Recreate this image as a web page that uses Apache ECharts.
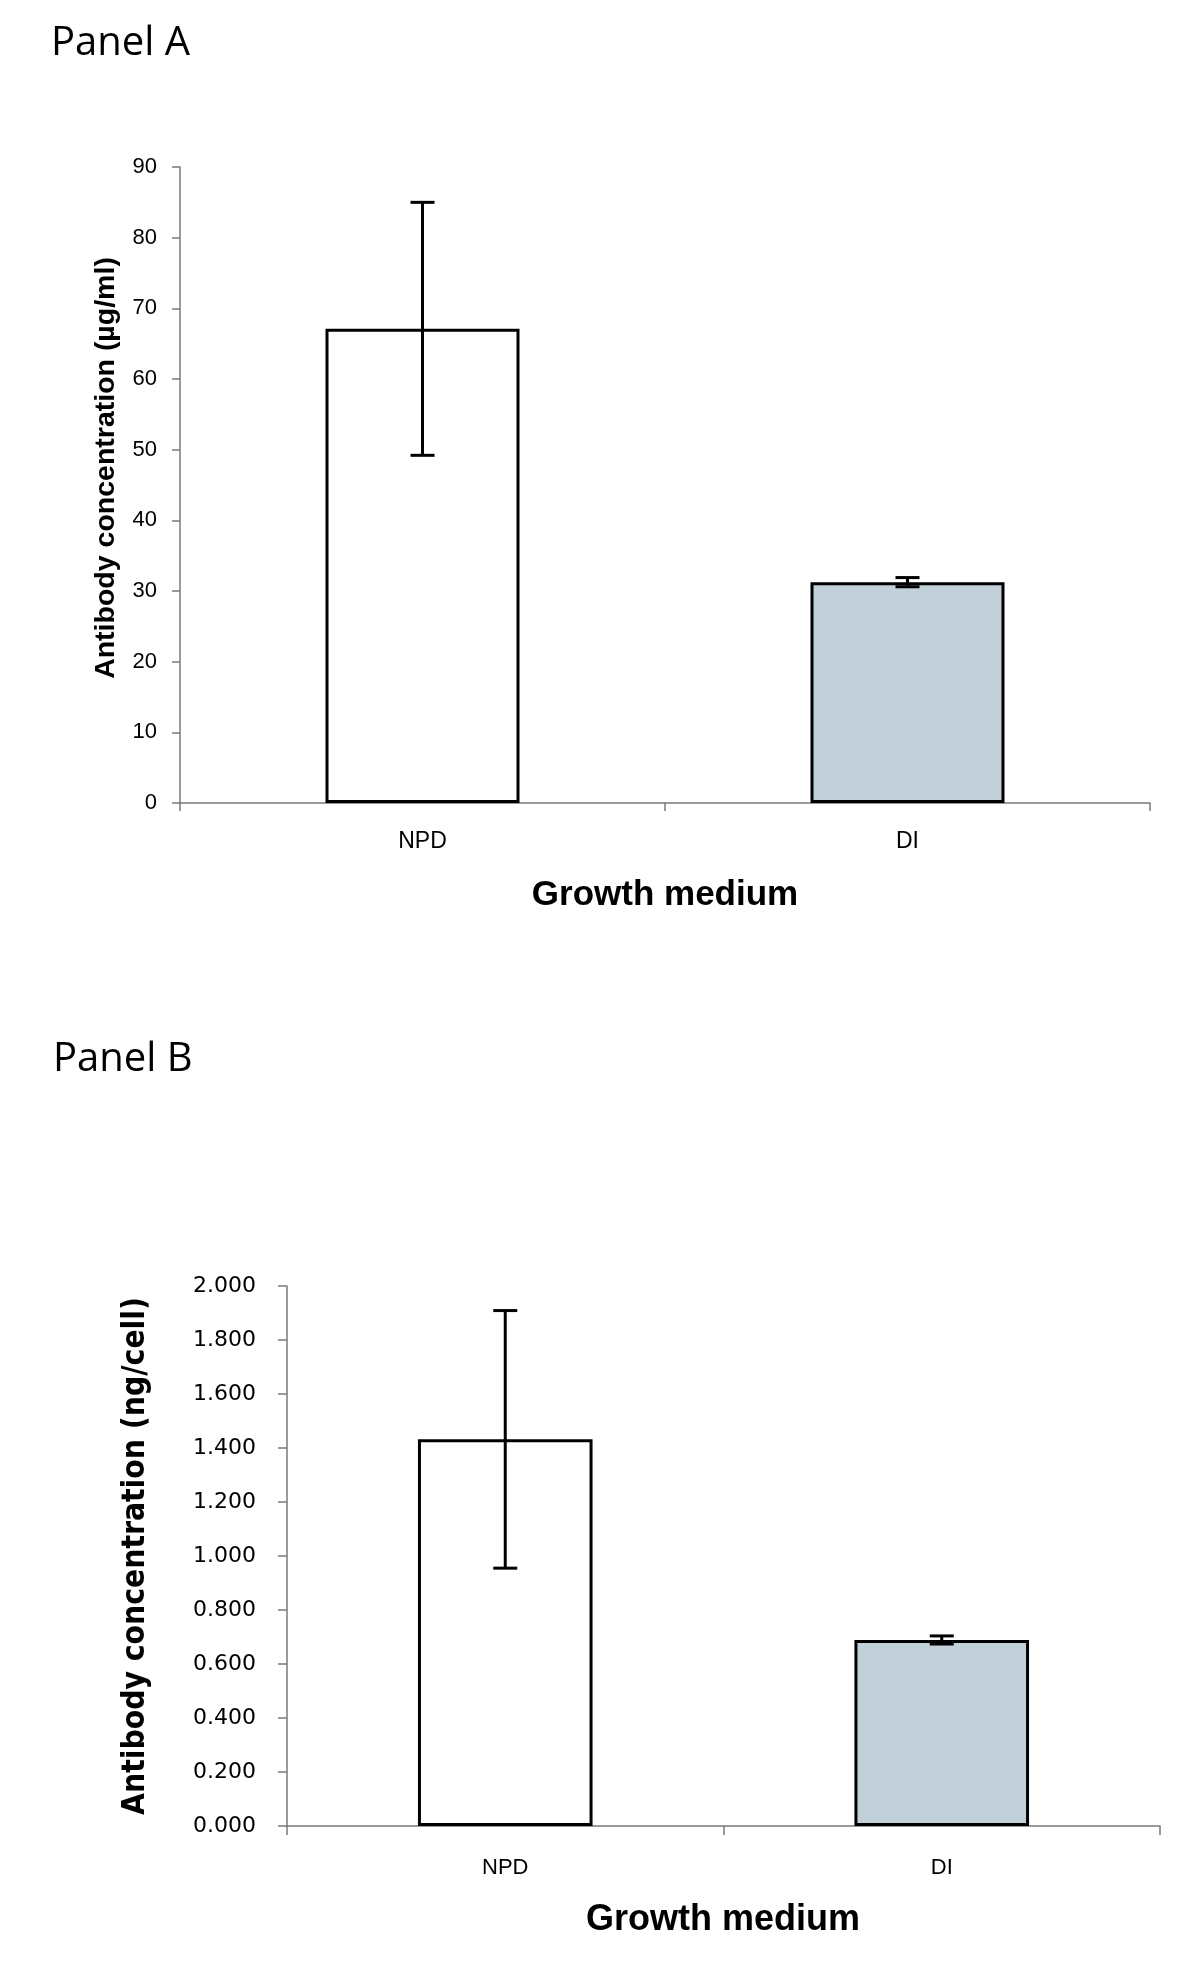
<!DOCTYPE html>
<html>
<head>
<meta charset="utf-8">
<script src="https://cdn.jsdelivr.net/npm/echarts@6/dist/echarts.min.js"></script>
<style>
html,body{margin:0;padding:0;background:#fff;}
#c{width:1200px;height:1977px;}
</style>
</head>
<body>
<div id="c"></div>
<script>
// ---- data ----
const categories = ['NPD', 'DI'];
const panelAMeans = [67.1, 31.25];
const panelAErrors = [17.9, 0.65];
const panelBMeans = [1.432, 0.689];
const panelBErrors = [0.477, 0.015];
const barColors = ['#ffffff', '#c1d0d9'];
const panelATitle = 'Panel A';
const panelBTitle = 'Panel B';
const panelAYName = 'Antibody concentration (µg/ml)';
const panelBYName = 'Antibody concentration (ng/cell)';
const xName = 'Growth medium';

const chart = echarts.init(document.getElementById('c'), null, {renderer: 'canvas'});
const axisGray = '#7a7a7a';

function barData(means) {
  return means.map((v, i) => ({
    value: v,
    itemStyle: {color: barColors[i], borderColor: '#000', borderWidth: 3}
  }));
}
function errData(means, errs) {
  return means.map((v, i) => [i, v, errs[i]]);
}
function errRender(params, api) {
  const x = api.value(0), m = api.value(1), e = api.value(2);
  const top = api.coord([x, m + e]);
  const bot = api.coord([x, m - e]);
  const cap = 12;
  const st = {stroke: '#000', lineWidth: 3};
  return {
    type: 'group',
    children: [
      {type: 'line', shape: {x1: top[0], y1: top[1], x2: bot[0], y2: bot[1]}, style: st},
      {type: 'line', shape: {x1: top[0] - cap, y1: top[1], x2: top[0] + cap, y2: top[1]}, style: st},
      {type: 'line', shape: {x1: bot[0] - cap, y1: bot[1], x2: bot[0] + cap, y2: bot[1]}, style: st}
    ]
  };
}

const option = {
  backgroundColor: '#fff',
  animation: false,
  grid: [
    {left: 180, right: 50, top: 167, height: 636},
    {left: 287, right: 40, top: 1286, height: 540}
  ],
  xAxis: [
    {
      type: 'category', gridIndex: 0, data: categories,
      axisLine: {show: true, lineStyle: {color: axisGray, width: 1.5}},
      axisTick: {show: true, length: 8, lineStyle: {color: axisGray, width: 1.5}},
      axisLabel: {fontFamily: 'Liberation Sans, Arial', fontSize: 23, color: '#000', margin: 27}
    },
    {
      type: 'category', gridIndex: 1, data: categories,
      axisLine: {show: true, lineStyle: {color: axisGray, width: 1.5}},
      axisTick: {show: true, length: 9, lineStyle: {color: axisGray, width: 1.5}},
      axisLabel: {fontFamily: 'Liberation Sans, Arial', fontSize: 22, color: '#000', margin: 31}
    }
  ],
  yAxis: [
    {
      type: 'value', gridIndex: 0, min: 0, max: 90, interval: 10,
      splitLine: {show: false},
      axisLine: {show: true, lineStyle: {color: axisGray, width: 1.5}},
      axisTick: {show: true, length: 8, lineStyle: {color: axisGray, width: 1.5}},
      axisLabel: {fontFamily: 'Liberation Sans, Arial', fontSize: 22, color: '#000', margin: 23}
    },
    {
      type: 'value', gridIndex: 1, min: 0, max: 2, interval: 0.2,
      splitLine: {show: false},
      axisLine: {show: true, lineStyle: {color: axisGray, width: 1.5}},
      axisTick: {show: true, length: 9, lineStyle: {color: axisGray, width: 1.5}},
      axisLabel: {fontFamily: 'DejaVu Sans', fontSize: 22, color: '#000', margin: 31,
        formatter: v => v.toFixed(3)}
    }
  ],
  series: [
    {type: 'bar', xAxisIndex: 0, yAxisIndex: 0, barWidth: '40%', data: barData(panelAMeans), z: 2},
    {type: 'custom', xAxisIndex: 0, yAxisIndex: 0, renderItem: errRender,
      data: errData(panelAMeans, panelAErrors), encode: {x: 0, y: 1}, z: 3},
    {type: 'bar', xAxisIndex: 1, yAxisIndex: 1, barWidth: '40%', data: barData(panelBMeans), z: 2},
    {type: 'custom', xAxisIndex: 1, yAxisIndex: 1, renderItem: errRender,
      data: errData(panelBMeans, panelBErrors), encode: {x: 0, y: 1}, z: 3}
  ],
  graphic: [
    {type: 'text', x: 51, y: 44, style: {text: panelATitle, fontFamily: 'Open Sans', fontSize: 40, fill: '#000', align: 'left', verticalAlign: 'middle'}},
    {type: 'text', x: 53, y: 1060, style: {text: panelBTitle, fontFamily: 'Open Sans', fontSize: 40, fill: '#000', align: 'left', verticalAlign: 'middle'}},
    {type: 'text', x: 106, y: 468, rotation: Math.PI / 2, style: {text: panelAYName, fontFamily: 'Liberation Sans, Arial', fontWeight: 'bold', fontSize: 28.5, fill: '#000', align: 'center', verticalAlign: 'middle'}},
    {type: 'text', x: 136, y: 1556, rotation: Math.PI / 2, style: {text: panelBYName, fontFamily: '"DejaVu Sans Condensed", "DejaVu Sans"', fontWeight: 'bold', fontSize: 31.5, fill: '#000', align: 'center', verticalAlign: 'middle'}},
    {type: 'text', x: 665, y: 895, style: {text: xName, fontFamily: 'Liberation Sans, Arial', fontWeight: 'bold', fontSize: 35, fill: '#000', align: 'center', verticalAlign: 'middle'}},
    {type: 'text', x: 723, y: 1920, style: {text: xName, fontFamily: 'Liberation Sans, Arial', fontWeight: 'bold', fontSize: 36, fill: '#000', align: 'center', verticalAlign: 'middle'}}
  ]
};
chart.setOption(option);
</script>
</body>
</html>
